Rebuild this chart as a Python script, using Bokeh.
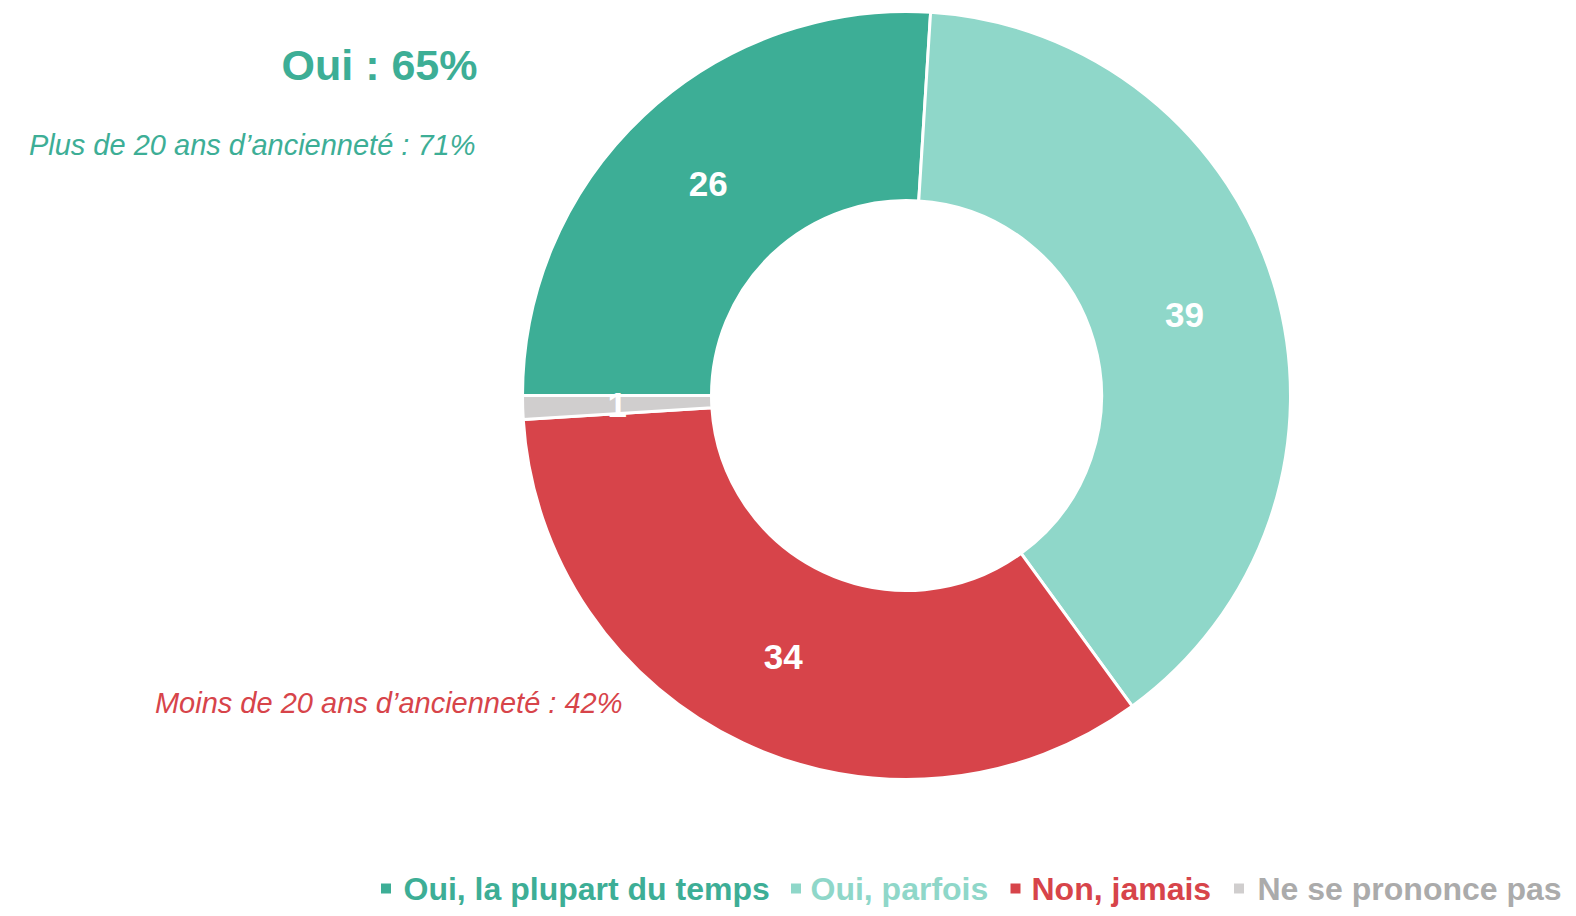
import numpy as np
from bokeh.plotting import figure
from bokeh.models import Range1d, ColumnDataSource
from bokeh.core.properties import value
from bokeh.embed import file_html
from bokeh.resources import INLINE

categories = ["Oui, la plupart du temps", "Oui, parfois", "Non, jamais", "Ne se prononce pas"]
values = [26, 39, 34, 1]
colors = ["#3DAE96", "#8FD7C9", "#D7444A", "#D0CECE"]
legend_text_colors = ["#3DAE96", "#8FD7C9", "#D7444A", "#ABABAB"]
title_text = "Oui : 65%"
note_top = "Plus de 20 ans d\u2019ancienneté : 71%"
note_bottom = "Moins de 20 ans d\u2019ancienneté : 42%"

W, H = 1576, 916
p = figure(width=W, height=H, output_backend="svg", toolbar_location=None,
           x_range=Range1d(0, W), y_range=Range1d(0, H), min_border=0)
p.axis.visible = False
p.grid.visible = False
p.outline_line_color = None
p.background_fill_color = "white"
p.border_fill_color = "white"

cx, cy = 906, 521
r_out, r_in = 384, 195
font = "Liberation Sans"

vals = np.array(values, dtype=float)
frac = vals / vals.sum()
start0 = np.pi  # first slice starts at 9 o'clock, goes clockwise
ends_cum = np.cumsum(frac) * 2 * np.pi
starts_cum = np.concatenate([[0], ends_cum[:-1]])
a_start = start0 - starts_cum
a_end = start0 - ends_cum
mid = (a_start + a_end) / 2
r_mid = (r_out + r_in) / 2

src = ColumnDataSource(dict(
    start=a_start, end=a_end, color=colors,
    lx=cx + r_mid * np.cos(mid), ly=cy + r_mid * np.sin(mid),
    label=[str(v) for v in values],
))

p.annular_wedge(x=cx, y=cy, inner_radius=r_in, outer_radius=r_out,
                start_angle="end", end_angle="start", direction="anticlock",
                fill_color="color", line_color="white", line_width=3, source=src)

p.text(x="lx", y="ly", text="label", source=src, text_color="white",
       text_font=value(font), text_font_style="bold", text_font_size="35px",
       text_align="center", text_baseline="alphabetic")

# annotations
p.text(x=[477], y=[852], text=[title_text], text_color="#3DAE96",
       text_font=value(font), text_font_style="bold", text_font_size="43px",
       text_align="right", text_baseline="alphabetic")
p.text(x=[475], y=[772], text=[note_top], text_color="#3DAE96",
       text_font=value(font), text_font_style="italic", text_font_size="29px",
       text_align="right", text_baseline="alphabetic")
p.text(x=[622], y=[214], text=[note_bottom], text_color="#D7444A",
       text_font=value(font), text_font_style="italic", text_font_size="29px",
       text_align="right", text_baseline="alphabetic")

# legend
sq_x = [385.5, 795.5, 1015, 1238.5]
tx = [403, 810, 1031, 1257]
p.scatter(x=sq_x, y=[28] * 4, marker="square", size=10, fill_color=colors, line_color=None)
p.text(x=tx, y=[28] * 4, text=categories, text_color=legend_text_colors,
       text_font=value(font), text_font_style="bold", text_font_size="32px",
       text_align="left", text_baseline="alphabetic")

open("out.html", "w").write(file_html(p, INLINE))
